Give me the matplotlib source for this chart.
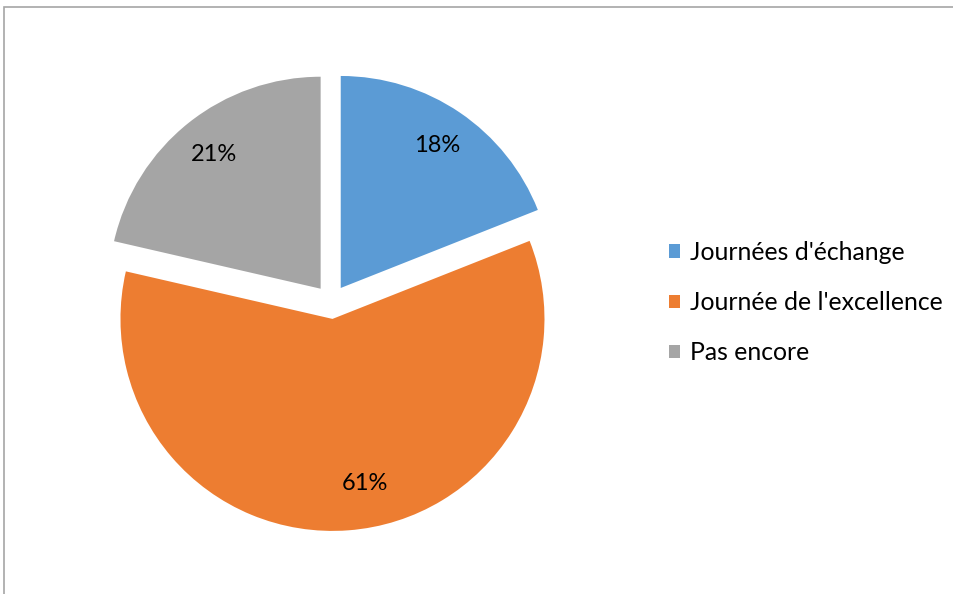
import numpy as np
import matplotlib.pyplot as plt
from matplotlib.patches import Rectangle, Patch

labels = ["Journées d'échange", "Journée de l'excellence", "Pas encore"]
# slice shares as drawn in the picture; the printed labels differ slightly
shares = [19.0, 59.6, 21.4]
pct_labels = ['18%', '61%', '21%']
colors = ['#5B9BD5', '#ED7D31', '#A5A5A5']

plt.rcParams['font.family'] = ['Lato', 'DejaVu Sans']

W, H = 954, 594
fig = plt.figure(figsize=(W / 100, H / 100), dpi=100)

# pie centre and radius in pixels
cx, cy, r = 331.2, 302.0, 212.0
half = 250.0
ax = fig.add_axes([(cx - half) / W, (H - cy - half) / H, 2 * half / W, 2 * half / H])
wedges, texts, autotexts = ax.pie(shares, colors=colors, startangle=90, counterclock=False,
                                  explode=[0.08] * 3, autopct='%1.0f%%', pctdistance=0.81,
                                  textprops={'fontsize': 17, 'color': 'black'})
for t, s in zip(autotexts, pct_labels):
    t.set_text(s)

# the big slice label sits a bit right of the slice middle, like Excel does
w = wedges[1]
ang = np.deg2rad((w.theta1 + w.theta2) / 2 + 7)
autotexts[1].set_position((w.center[0] + 0.79 * np.cos(ang), w.center[1] + 0.79 * np.sin(ang)))

lim = half / r
ax.set_xlim(-lim, lim)
ax.set_ylim(-lim, lim)
ax.axis('off')

handles = [Patch(facecolor=c, edgecolor='none') for c in colors]
fig.legend(handles, labels, loc='center left', bbox_to_anchor=(669 / W, 1 - 302.5 / H),
           frameon=False, fontsize=17.8, handlelength=0.45, handleheight=0.45,
           handletextpad=0.4, labelspacing=1.1, borderpad=0, borderaxespad=0)

fig.patches.append(Rectangle((4.5 / W, -0.1), 1.2, 1.1 - 6.5 / H, transform=fig.transFigure,
                             fill=False, edgecolor='#A6A6A6', linewidth=1.2))

fig.savefig('out.png', dpi=100)
